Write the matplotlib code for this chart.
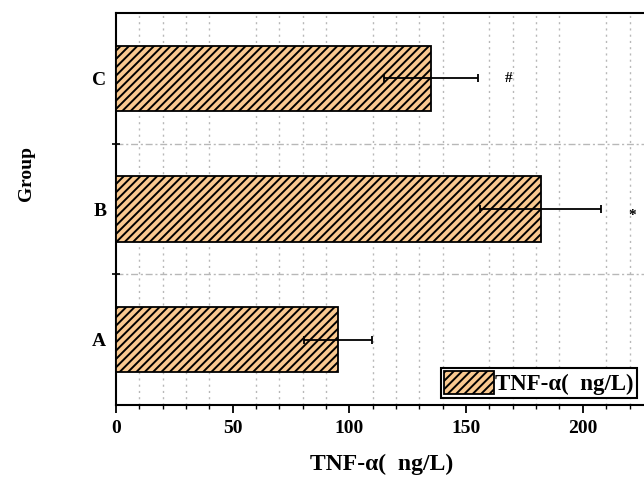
import numpy as np
import matplotlib.pyplot as plt
from matplotlib.ticker import MultipleLocator, FixedLocator

groups = ['A', 'B', 'C']
tnf_mean = [95, 182, 135]          # TNF-alpha (ng/L)
tnf_err = [14.5, 26, 20]
marks = ['', '*', '#']
legend_label = 'TNF-α(  ng/L)'

plt.rcParams['font.family'] = ['Liberation Serif', 'DejaVu Serif']
plt.rcParams['font.weight'] = 'bold'
plt.rcParams['hatch.linewidth'] = 1.4

fig = plt.figure(figsize=(6.44, 4.83), dpi=100)
# axes run past the right edge of the figure, like the cropped original
ax = fig.add_axes([0.180, 0.1615, 0.870, 0.8115])

y = np.arange(len(groups))
ax.barh(y, tnf_mean, height=0.5, color='#F9C990', edgecolor='black',
        linewidth=1.3, hatch='////', label=legend_label, zorder=3)
ax.errorbar(tnf_mean, y, xerr=tnf_err, fmt='none', ecolor='black',
            elinewidth=1.3, capsize=3, capthick=1.3, zorder=4)

# significance marks
for yi, m, e in zip(y, marks, tnf_err):
    if m:
        ax.text(tnf_mean[yi] + e + 13, yi, m, ha='center',
                va='top' if m == '*' else 'center',
                fontsize=11, fontweight='bold', zorder=5)

ax.set_xlim(0, 240)
ax.set_ylim(-0.5, 2.5)
ax.set_yticks(y)
ax.set_yticklabels(groups, fontsize=14, fontweight='bold')
ax.yaxis.set_minor_locator(FixedLocator([0.5, 1.5]))
ax.xaxis.set_major_locator(MultipleLocator(50))
ax.xaxis.set_minor_locator(MultipleLocator(10))
ax.tick_params(axis='x', which='major', direction='out', length=6, width=1.3,
               labelsize=14, pad=5)
ax.tick_params(axis='x', which='minor', direction='out', length=3, width=1.0)
ax.tick_params(axis='y', which='major', length=0, pad=7)
ax.tick_params(axis='y', which='minor', direction='inout', length=6, width=1.2)
for lbl in ax.get_xticklabels():
    lbl.set_fontweight('bold')

ax.grid(True, axis='x', which='minor', linestyle=(0, (1.5, 3)), color='#b8b8b8',
        linewidth=1.0, zorder=0)
ax.grid(True, axis='y', which='minor', linestyle=(0, (5, 2, 1.5, 2)),
        color='#b8b8b8', linewidth=1.0, zorder=0)

for side in ['left', 'bottom', 'top']:
    ax.spines[side].set_linewidth(1.5)
ax.spines['right'].set_visible(False)

ax.set_xlabel(legend_label, fontsize=17, fontweight='bold')
ax.xaxis.set_label_coords(0.475, -0.125)
ax.set_ylabel('Group', fontsize=14, fontweight='bold')
ax.yaxis.set_label_coords(-0.145, 0.59)

leg = ax.legend(loc='lower left', bbox_to_anchor=(441 / 644, 85 / 483),
                bbox_transform=fig.transFigure, fancybox=False,
                edgecolor='black', framealpha=1, fontsize=16.5,
                handlelength=2.2, handleheight=1.2, borderpad=0.12,
                handletextpad=0.05, borderaxespad=0)
leg.get_frame().set_linewidth(1.5)

fig.savefig('out.png', dpi=100)
